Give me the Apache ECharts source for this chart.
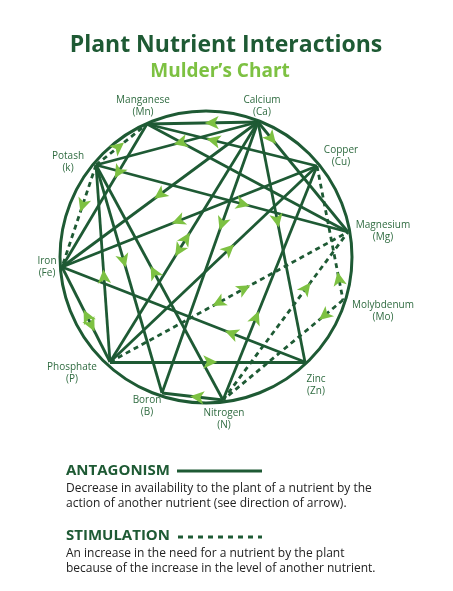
<!DOCTYPE html>
<html><head><meta charset="utf-8">
<script src="https://cdn.jsdelivr.net/npm/echarts@6/dist/echarts.min.js"></script>
<style>html,body{margin:0;padding:0;background:#fff}#c{width:453px;height:591px}</style>
</head><body><div id="c"></div>
<script>
// Nutrient nodes (position on the chart circle, in chart units)
const nodeNames = ['Ca','Mn','K','Fe','P','B','N','Zn','Mo','Mg','Cu'];
const nodeX = [258,147,96,62,110,162,223,305,343,348,317];
const nodeY = [122,124,165,267,362,393,400,362,300,232,166];
const nodeLabels = ['Calcium\n(Ca)','Manganese\n(Mn)','Potash\n(k)','Iron\n(Fe)','Phosphate\n(P)','Boron\n(B)','Nitrogen\n(N)','Zinc\n(Zn)','Molybdenum\n(Mo)','Magnesium\n(Mg)','Copper\n(Cu)'];
const labelX = [262,143,68,47,72,147,224,316,383,383,341];
const labelY = [106,106,162,267,373,406,419,385,311,231,156];
// Antagonism edges: [from, to, arrowTarget, fraction from 'from']
const antagonism = [
 ['Ca','Mn','Mn',0.48],['Ca','K','K',0.52],['Ca','Mg','Mg',0.2],['Ca','Fe','Fe',0.53],
 ['Ca','P','Ca',0.46],['Ca','P','P',0.56],['Ca','B','B',0.4],['Ca','Zn','Zn',0.44],
 ['Mn','Cu','Mn',0.35],['Mn','Mg',null,0],['Mn','Fe','Fe',0.38],
 ['K','Mg','Mg',0.61],['K','N','K',0.43],['K','B','B',0.45],['K','P','K',0.53],
 ['Fe','Cu','Fe',0.43],['P','Cu','Cu',0.6],['Fe','Zn','Fe',0.67],
 ['Fe','P','Fe',0.45],['Fe','P','P',0.68],['P','Zn','Zn',0.55],
 ['N','Cu','Cu',0.38],['N','B','B',0.54]
];
// Stimulation edges
const stimulation = [
 ['P','Mg','Mg',0.59],['P','Mg','P',0.43],['Cu','Mo','Cu',0.79],
 ['N','Mg','Mg',0.7],['Mo','N','N',0.2],['K','Mn','Mn',0.55],['K','Fe','Fe',0.46]
];

const DARK='#1e5a34', LIGHT='#7dc142', TXT='#2f6b40';
const pos = n => { const i=nodeNames.indexOf(n); return [nodeX[i],nodeY[i]]; };
function lineData(list){
  const seen={}; const out=[];
  list.forEach(e=>{const k=e[0]+e[1]; if(seen[k])return; seen[k]=1; out.push({coords:[pos(e[0]),pos(e[1])]});});
  return out;
}
function arrowData(list){
  return list.filter(e=>e[2]).map(e=>{
    const a=pos(e[0]), b=pos(e[1]);
    const x=a[0]+(b[0]-a[0])*e[3], y=a[1]+(b[1]-a[1])*e[3];
    const t=pos(e[2]), s=(e[2]===e[1])?a:b;
    const dx=t[0]-s[0], dy=t[1]-s[1];
    const ang=Math.atan2(-dy,dx)*180/Math.PI;
    return {value:[x,y], symbolRotate:ang-90};
  });
}
const chart=echarts.init(document.getElementById('c'));
const graphics=[
 {type:'circle',shape:{cx:206,cy:257,r:146},style:{fill:'none',stroke:DARK,lineWidth:3},z:1},
 {type:'text',style:{text:'Plant Nutrient Interactions',x:226,y:45,align:'center',verticalAlign:'middle',font:'bold 23px "Open Sans"',fill:DARK}},
 {type:'text',style:{text:'Mulder’s Chart',x:220,y:72,align:'center',verticalAlign:'middle',font:'bold 19px "Open Sans"',fill:LIGHT}},
 {type:'text',style:{text:'ANTAGONISM',x:66,y:471,verticalAlign:'middle',font:'bold 15px "Open Sans"',fill:DARK}},
 {type:'line',shape:{x1:177,y1:471,x2:262,y2:471},style:{stroke:DARK,lineWidth:3}},
 {type:'text',style:{text:'Decrease in availability to the plant of a nutrient by the\naction of another nutrient (see direction of arrow).',x:66,y:481,font:'12px "Open Sans"',fill:'#222',lineHeight:15}},
 {type:'text',style:{text:'STIMULATION',x:66,y:536,verticalAlign:'middle',font:'bold 15px "Open Sans"',fill:DARK}},
 {type:'line',shape:{x1:178,y1:537,x2:262,y2:537},style:{stroke:DARK,lineWidth:3,lineDash:[5,5]}},
 {type:'text',style:{text:'An increase in the need for a nutrient by the plant\nbecause of the increase in the level of another nutrient.',x:66,y:546,font:'12px "Open Sans"',fill:'#222',lineHeight:15}}
];
nodeLabels.forEach((t,i)=>graphics.push({type:'text',style:{text:t,x:labelX[i],y:labelY[i],align:'center',verticalAlign:'middle',font:'10px "Open Sans"',fill:TXT,lineHeight:12}}));
chart.setOption({
  animation:false,
  grid:{left:0,right:0,top:0,bottom:0},
  xAxis:{type:'value',min:0,max:453,show:false},
  yAxis:{type:'value',min:0,max:591,inverse:true,show:false},
  graphic:graphics,
  series:[
    {type:'lines',coordinateSystem:'cartesian2d',data:lineData(antagonism),lineStyle:{color:DARK,width:2.8,opacity:1},z:2},
    {type:'lines',coordinateSystem:'cartesian2d',data:lineData(stimulation),lineStyle:{color:DARK,width:2.8,type:[5,4],opacity:1},z:2},
    {type:'scatter',data:arrowData(antagonism.concat(stimulation)),symbol:'arrow',symbolSize:[10,14],itemStyle:{color:LIGHT,opacity:1},z:5}
  ]
});
</script></body></html>
